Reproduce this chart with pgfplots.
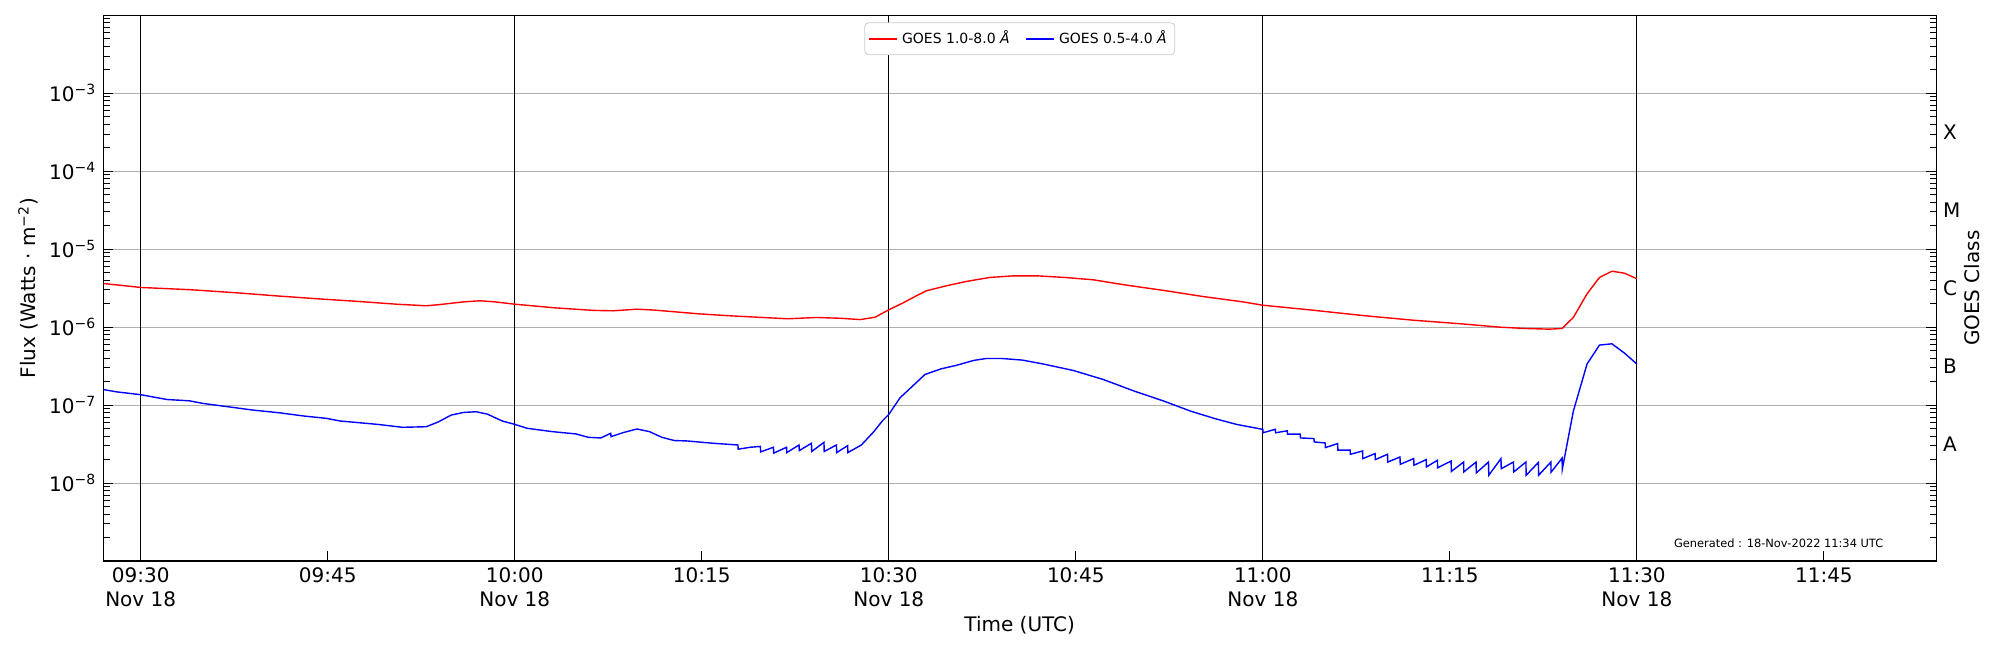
\documentclass[border=0pt]{standalone}
\usepackage{fontspec}
\setmainfont{DejaVu Sans}
\usepackage{pgfplots}
\pgfplotsset{compat=1.18}
\definecolor{gridgray}{HTML}{B0B0B0}
\definecolor{legedge}{HTML}{CCCCCC}
\newcommand{\tfont}{\fontsize{10}{12}\selectfont}
\begin{document}
\begin{tikzpicture}
\begin{axis}[
  at={(0pt,0pt)}, anchor=south west,
  scale only axis, width=916.4pt, height=272.85pt,
  xmin=27, xmax=174, ymode=log, ymin=1e-9, ymax=1e-2,
  xtick={45,75,105,135,165},
  xticklabels={09:45,10:15,10:45,11:15,11:45},
  extra x ticks={30,60,90,120,150},
  extra x tick labels={{09:30\\Nov 18},{10:00\\Nov 18},{10:30\\Nov 18},{11:00\\Nov 18},{11:30\\Nov 18}},
  extra x tick style={grid=major, major grid style={black, line width=0.5pt}},
  xtick pos=left,
  ytick={1e-8,1e-7,1e-6,1e-5,1e-4,1e-3},
  yticklabels={10\textsuperscript{−8},10\textsuperscript{−7},10\textsuperscript{−6},10\textsuperscript{−5},10\textsuperscript{−4},10\textsuperscript{−3}},
  minor ytick={2e-9,3e-9,4e-9,5e-9,6e-9,7e-9,8e-9,9e-9,2e-8,3e-8,4e-8,5e-8,6e-8,7e-8,8e-8,9e-8,2e-7,3e-7,4e-7,5e-7,6e-7,7e-7,8e-7,9e-7,2e-6,3e-6,4e-6,5e-6,6e-6,7e-6,8e-6,9e-6,2e-5,3e-5,4e-5,5e-5,6e-5,7e-5,8e-5,9e-5,2e-4,3e-4,4e-4,5e-4,6e-4,7e-4,8e-4,9e-4,2e-3,3e-3,4e-3,5e-3,6e-3,7e-3,8e-3,9e-3},
  ymajorgrids, major grid style={gridgray, line width=0.5pt},
  tick style={black, line width=0.5pt},
  major tick length=5pt, minor tick length=3.3pt,
  axis line style={line width=0.6pt},
  tick label style={font=\tfont},
  x tick label style={align=center},
  label style={font=\tfont},
  xlabel={Time (UTC)},
  ylabel={Flux (Watts · m\textsuperscript{−2})},
  every axis x label/.style={at={(axis description cs:0.5,0)}, yshift=-32pt, anchor=center},
  every axis y label/.style={at={(axis description cs:0,0.5)}, xshift=-37.5pt, rotate=90, anchor=center},
  legend columns=2,
  legend cell align=left,
  legend image code/.code={\draw[#1, line width=0.7pt] (0pt,0pt) -- (14pt,0pt);},
  legend style={at={(0.5,0.987)}, anchor=north, draw=legedge, rounded corners=2pt,
    font=\fontsize{7}{8.4}\selectfont, fill=white, inner sep=2pt,
    /tikz/every even column/.append style={column sep=6pt}},
]
\addplot[red, line width=0.7pt] coordinates {
(27.0,3.63e-6)(30.0,3.23e-6)(34.0,3.02e-6)(37.8,2.75e-6)(41.0,2.51e-6)(44.2,2.31e-6)(47.4,2.14e-6)(50.5,1.97e-6)(52.9,1.88e-6)(54.0,1.95e-6)(55.9,2.11e-6)(57.2,2.18e-6)(58.4,2.11e-6)(60.0,1.97e-6)(63.2,1.77e-6)(66.3,1.64e-6)(67.9,1.62e-6)(69.8,1.70e-6)(71.1,1.66e-6)(74.8,1.48e-6)(77.2,1.40e-6)(81.9,1.28e-6)(84.2,1.33e-6)(86.1,1.30e-6)(87.7,1.25e-6)(88.9,1.34e-6)(90.0,1.67e-6)(91.1,2.03e-6)(92.1,2.47e-6)(93.0,2.92e-6)(94.6,3.39e-6)(96.2,3.85e-6)(98.1,4.34e-6)(100.0,4.55e-6)(101.9,4.55e-6)(104.1,4.34e-6)(106.4,4.05e-6)(108.9,3.49e-6)(112.1,2.95e-6)(115.2,2.47e-6)(118.4,2.11e-6)(120.0,1.91e-6)(123.7,1.67e-6)(128.0,1.41e-6)(132.0,1.23e-6)(136.0,1.10e-6)(139.0,1.00e-6)(141.0,9.62e-7)(143.0,9.42e-7)(144.0,9.62e-7)(144.9,1.33e-6)(146.0,2.67e-6)(147.0,4.34e-6)(148.0,5.22e-6)(149.0,4.92e-6)(150.0,4.17e-6)
};
\addlegendentry{GOES 1.0-8.0 {\itshape Å}}
\addplot[blue, line width=0.7pt] coordinates {
(27.0,1.585e-7)(28.05,1.48e-7)(30.0,1.36e-7)(32.1,1.18e-7)(33.9,1.135e-7)(35.0,1.05e-7)(37.0,9.53e-8)(39.0,8.63e-8)(41.1,7.98e-8)(43.1,7.24e-8)(44.9,6.76e-8)(46.0,6.25e-8)(47.2,6.01e-8)(49.0,5.66e-8)(51.0,5.19e-8)(52.9,5.28e-8)(53.9,6.12e-8)(54.9,7.45e-8)(55.9,8.05e-8)(56.9,8.22e-8)(57.8,7.67e-8)(59.0,6.25e-8)(60.0,5.66e-8)(61.0,5.04e-8)(63.0,4.57e-8)(64.9,4.27e-8)(65.9,3.86e-8)(66.9,3.79e-8)(67.7,4.35e-8)(67.72,3.94e-8)(68.7,4.44e-8)(69.8,4.94e-8)(70.8,4.57e-8)(71.8,3.86e-8)(72.8,3.51e-8)(73.8,3.47e-8)(75.9,3.24e-8)(77.9,3.08e-8)(77.92,2.72e-8)(78.9,2.88e-8)(79.7,2.95e-8)(79.72,2.51e-8)(80.75,2.88e-8)(80.77,2.42e-8)(81.8,2.88e-8)(81.82,2.46e-8)(82.8,3.08e-8)(82.82,2.61e-8)(83.8,3.24e-8)(83.82,2.54e-8)(84.8,3.33e-8)(84.82,2.54e-8)(85.8,3.08e-8)(85.82,2.46e-8)(86.7,3.02e-8)(86.72,2.46e-8)(87.8,3.08e-8)(88.8,4.57e-8)(89.5,6.31e-8)(90.0,7.59e-8)(90.9,1.24e-7)(91.9,1.75e-7)(92.9,2.47e-7)(94.2,2.92e-7)(95.4,3.23e-7)(96.8,3.74e-7)(97.8,3.96e-7)(99.1,3.96e-7)(100.7,3.78e-7)(102.3,3.39e-7)(104.8,2.78e-7)(107.2,2.13e-7)(109.7,1.51e-7)(112.1,1.12e-7)(114.2,8.37e-8)(116.2,6.68e-8)(117.9,5.65e-8)(120.0,4.88e-8)(120.02,4.42e-8)(121.0,4.90e-8)(121.02,4.42e-8)(121.96,4.68e-8)(121.98,4.24e-8)(123.0,4.24e-8)(123.02,3.79e-8)(124.1,3.72e-8)(124.12,3.37e-8)(125.0,3.27e-8)(125.02,2.85e-8)(126.0,3.21e-8)(126.02,2.64e-8)(127.0,2.64e-8)(127.02,2.34e-8)(128.0,2.58e-8)(128.02,2.06e-8)(129.0,2.39e-8)(129.02,2.00e-8)(130.0,2.34e-8)(130.02,1.86e-8)(131.0,2.16e-8)(131.02,1.74e-8)(132.1,2.06e-8)(132.12,1.69e-8)(133.1,2.00e-8)(133.12,1.61e-8)(134.0,1.96e-8)(134.02,1.57e-8)(135.1,1.92e-8)(135.12,1.41e-8)(136.1,1.86e-8)(136.12,1.39e-8)(137.1,1.86e-8)(137.12,1.35e-8)(138.1,1.86e-8)(138.12,1.26e-8)(139.1,2.06e-8)(139.12,1.53e-8)(140.1,1.86e-8)(140.12,1.39e-8)(141.1,1.86e-8)(141.12,1.26e-8)(142.1,1.84e-8)(142.12,1.26e-8)(143.1,1.86e-8)(143.12,1.38e-8)(144.0,2.09e-8)(144.02,1.51e-8)(144.9,8.32e-8)(146.0,3.36e-7)(147.0,5.89e-7)(148.0,6.11e-7)(149.0,4.65e-7)(150.0,3.36e-7)
};
\addlegendentry{GOES 0.5-4.0 {\itshape Å}}
\node[anchor=base east, font=\fontsize{5.7}{7}\selectfont] at (rel axis cs:0.975,0.024) {Generated : 18-Nov-2022 11:34 UTC};
\end{axis}
\begin{axis}[
  at={(0pt,0pt)}, anchor=south west,
  scale only axis, width=916.4pt, height=272.85pt,
  xmin=27, xmax=174, ymode=log, ymin=1e-9, ymax=1e-2,
  hide x axis, axis y line*=right, y axis line style={draw=none},
  ytick={3.162e-8,3.162e-7,3.162e-6,3.162e-5,3.162e-4},
  yticklabels={A,B,C,M,X},
  y tick style={draw=none}, major tick length=0pt, minor tick length=0pt,
  tick label style={font=\tfont},
  label style={font=\tfont},
  ylabel={GOES Class},
  every axis y label/.style={at={(axis description cs:1,0.5)}, xshift=18pt, rotate=90, anchor=center},
]
\addplot[draw=none] coordinates {(30,1e-6)(60,1e-7)};
\end{axis}
\pgfresetboundingbox
\path[use as bounding box] (-51.65pt,-44.5pt) rectangle (948.35pt,280.5pt);
\end{tikzpicture}
\end{document}
